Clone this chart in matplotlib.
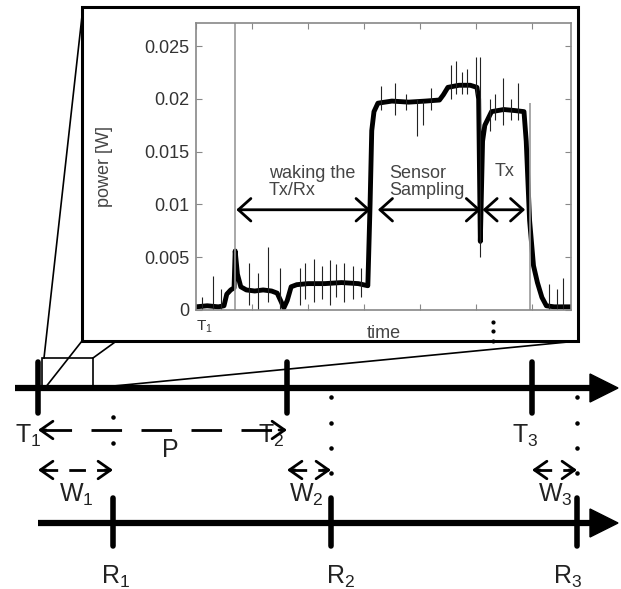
import numpy as np
import matplotlib.pyplot as plt
from matplotlib.patches import Rectangle, Polygon

plt.rcParams['font.family'] = ['Liberation Sans', 'DejaVu Sans']
plt.rcParams['mathtext.fontset'] = 'custom'
plt.rcParams['mathtext.rm'] = 'Liberation Sans'
plt.rcParams['mathtext.it'] = 'Liberation Sans:italic'

# power trace (time in tick units, power in W)
trace_t = [0.00, 0.20, 0.40, 0.50, 0.55, 0.62, 0.68, 0.70, 0.74, 0.80, 0.90, 1.05, 1.20,
           1.35, 1.45, 1.52, 1.57, 1.63, 1.70, 1.80, 2.00, 2.30, 2.60, 2.90, 3.07,
           3.11, 3.14, 3.18, 3.25, 3.50, 3.80, 4.10, 4.35, 4.42, 4.50, 4.70, 4.90,
           5.02, 5.05, 5.08, 5.12, 5.16, 5.28, 5.50, 5.70, 5.86, 5.90, 5.96, 6.03,
           6.10, 6.18, 6.26, 6.40, 6.70]
trace_p = [0.0003, 0.0004, 0.0003, 0.0004, 0.0015, 0.0019, 0.0021, 0.0056, 0.0034,
           0.0022, 0.0019, 0.0018, 0.0019, 0.0018, 0.0016, 0.0008, 0.0002, 0.0009,
           0.0022, 0.0024, 0.0025, 0.0025, 0.0026, 0.0025, 0.0023, 0.0100, 0.0170,
           0.0188, 0.0196, 0.0198, 0.0197, 0.0198, 0.0199, 0.0204, 0.0211, 0.0213,
           0.0213, 0.0211, 0.0200, 0.0065, 0.0160, 0.0175, 0.0188, 0.0190, 0.0189,
           0.0188, 0.0160, 0.0085, 0.0042, 0.0026, 0.0012, 0.0004, 0.0003, 0.0003]

# noise spikes: time, low, high
spike_t = [0.10, 0.30, 0.45, 0.95, 1.10, 1.28, 1.50, 1.85, 1.95, 2.10, 2.25, 2.40,
           2.50, 2.65, 2.80, 2.95, 3.30, 3.55, 3.75, 3.95, 4.05, 4.20, 4.55, 4.65,
           4.75, 4.85, 5.00, 5.08, 5.25, 5.35, 5.48, 5.62, 5.75, 6.30, 6.45, 6.55]
spike_lo = [0.0000, 0.0000, 0.0000, 0.0005, 0.0000, 0.0008, 0.0000, 0.0005, 0.0010,
            0.0008, 0.0010, 0.0005, 0.0012, 0.0008, 0.0010, 0.0012, 0.0190, 0.0185,
            0.0190, 0.0165, 0.0175, 0.0190, 0.0200, 0.0205, 0.0205, 0.0205, 0.0205,
            0.0050, 0.0170, 0.0180, 0.0175, 0.0180, 0.0180, 0.0000, 0.0000, 0.0000]
spike_hi = [0.0012, 0.0032, 0.0020, 0.0045, 0.0035, 0.0060, 0.0040, 0.0040, 0.0045,
            0.0048, 0.0042, 0.0047, 0.0044, 0.0045, 0.0042, 0.0040, 0.0212, 0.0215,
            0.0205, 0.0200, 0.0198, 0.0210, 0.0232, 0.0236, 0.0226, 0.0228, 0.0240,
            0.0240, 0.0200, 0.0205, 0.0220, 0.0200, 0.0215, 0.0025, 0.0020, 0.0030]

marker_t = [0.69, 5.96]
marker_top = [0.0272, 0.0196]

phase_names = ['waking the\nTx/Rx', 'Sensor\nSampling', 'Tx']
phase_start = [0.72, 3.25, 5.12]
phase_end = [3.12, 5.09, 5.88]
phase_text_x = [1.30, 3.46, 5.34]
phase_text_y = [0.0137, 0.0137, 0.0139]
arrow_y = 0.0095

y_ticks = [0, 0.005, 0.01, 0.015, 0.02, 0.025]
y_ticklabels = ['0', '0.005', '0.01', '0.015', '0.02', '0.025']

# timeline diagram (pixel positions)
t_ticks = [38, 287, 532]
t_labels = ['T$_1$', 'T$_2$', 'T$_3$']
r_ticks = [113, 331, 577]
r_labels = ['R$_1$', 'R$_2$', 'R$_3$']
w_labels = ['W$_1$', 'W$_2$', 'W$_3$']

fig = plt.figure(figsize=(6.21, 5.89), dpi=100)
ax = fig.add_axes([0, 0, 1, 1])
ax.set_xlim(0, 621)
ax.set_ylim(589, 0)
ax.axis('off')

# zoom connector lines (drawn under the box)
box_l, box_r, box_t, box_b = 82, 578, 7, 341
sb_l, sb_r, sb_t, sb_b = 42, 93, 358, 388
ax.plot([sb_l + 2, box_l + 1], [sb_t, box_t], color='k', lw=1.2, zorder=1)
ax.plot([sb_l + 3, box_l], [sb_b, box_b], color='k', lw=1.2, zorder=1)
ax.plot([sb_r, box_r], [sb_t, box_t], color='k', lw=1.2, zorder=1)
ax.plot([sb_r, box_r], [sb_b, box_b], color='k', lw=1.2, zorder=1)
ax.add_patch(Rectangle((sb_l, sb_t), sb_r - sb_l, sb_b - sb_t, fill=False,
                       ec='k', lw=1.2, zorder=1))
ax.add_patch(Rectangle((box_l, box_t), box_r - box_l, box_b - box_t, fc='white',
                       ec='k', lw=2.2, zorder=2))

# timelines
axis_y = [388, 523]
axis_x0 = [15, 38]
for y0, x0 in zip(axis_y, axis_x0):
    ax.plot([x0, 595], [y0, y0], color='k', lw=4.5, solid_capstyle='butt', zorder=3)
    ax.add_patch(Polygon([[590, y0 - 14], [618, y0], [590, y0 + 14]], closed=True,
                         fc='k', ec='k', zorder=3))
for x in t_ticks:
    ax.plot([x, x], [362, 413], color='k', lw=4, solid_capstyle='round', zorder=3)
for x in r_ticks:
    ax.plot([x, x], [498, 546], color='k', lw=4, solid_capstyle='round', zorder=3)

# dotted verticals
ax.scatter([r_ticks[0]] * 2, [417, 443], s=5, color='k', zorder=3)
for x in r_ticks[1:]:
    ax.scatter([x] * 4, [397, 423, 448, 473], s=5, color='k', zorder=3)

# labels
txt_kw = dict(fontsize=18, color='#222222', ha='center', va='center')
for x, lab in zip([28, 271, 525], t_labels):
    ax.text(x, 436, lab, **txt_kw)
for x, lab in zip([116, 341, 568], r_labels):
    ax.text(x, 577, lab, **txt_kw)
for x, lab in zip([76, 306, 555], w_labels):
    ax.text(x, 495, lab, **txt_kw)
ax.text(170, 450, 'P', **txt_kw)


def dashed_arrow(x0, x1, y, dash=(6, 4)):
    ax.plot([x0 + 3, x1 - 3], [y, y], color='k', lw=2, dashes=dash, zorder=3)
    hk = dict(arrowstyle='->,head_length=0.5,head_width=0.35', lw=2, color='k',
              mutation_scale=18, shrinkA=0, shrinkB=0)
    ax.annotate('', xy=(x0, y), xytext=(x0 + 8, y), arrowprops=hk, zorder=3)
    ax.annotate('', xy=(x1, y), xytext=(x1 - 8, y), arrowprops=hk, zorder=3)


dashed_arrow(t_ticks[0], t_ticks[1], 430, dash=(11, 7))
for x0, x1 in zip(t_ticks, r_ticks):
    dashed_arrow(x0, x1, 470)

# power inset
ins = fig.add_axes([196 / 621, 1 - 310 / 589, 375 / 621, 287 / 589], zorder=5)
ins.set_facecolor('white')
ins.plot(trace_t, trace_p, color='k', lw=3.5, solid_joinstyle='round')
ins.vlines(spike_t, spike_lo, spike_hi, color='#222222', lw=0.8)
ins.vlines(marker_t, 0, marker_top, color='#999999', lw=1.2)
ins.set_xlim(0, 6.7)
ins.set_ylim(0, 0.0272)
ins.set_xticks(np.arange(0, 7))
ins.set_xticklabels([])
ins.set_yticks(y_ticks)
ins.set_yticklabels(y_ticklabels)
ins.tick_params(direction='in', length=4, color='#888888', labelcolor='#333333',
                labelsize=13, top=True, right=True, pad=5)
for s in ins.spines.values():
    s.set_color('#888888')
    s.set_linewidth(1.2)
ins.set_ylabel('power [W]', fontsize=13, color='#444444', labelpad=22)
ins.set_xlabel('time', fontsize=13, color='#444444', labelpad=6)
ins.text(0.0, -0.0008, 'T$_1$', fontsize=11, color='#333333', va='top', ha='left')
ins.scatter([5.3] * 3, [-0.0011, -0.0020, -0.0029], s=4, color='k', clip_on=False)

for x0, x1, xt, yt, name in zip(phase_start, phase_end, phase_text_x,
                                phase_text_y, phase_names):
    ins.annotate('', xy=(x1, arrow_y), xytext=(x0, arrow_y),
                 arrowprops=dict(arrowstyle='<->,head_length=0.5,head_width=0.45',
                                 lw=2, color='k', mutation_scale=18,
                                 shrinkA=0, shrinkB=0))
    ins.text(xt, yt, name, fontsize=13, color='#444444', ha='left', va='top',
             linespacing=1.0)

fig.savefig('out.png', dpi=100)
